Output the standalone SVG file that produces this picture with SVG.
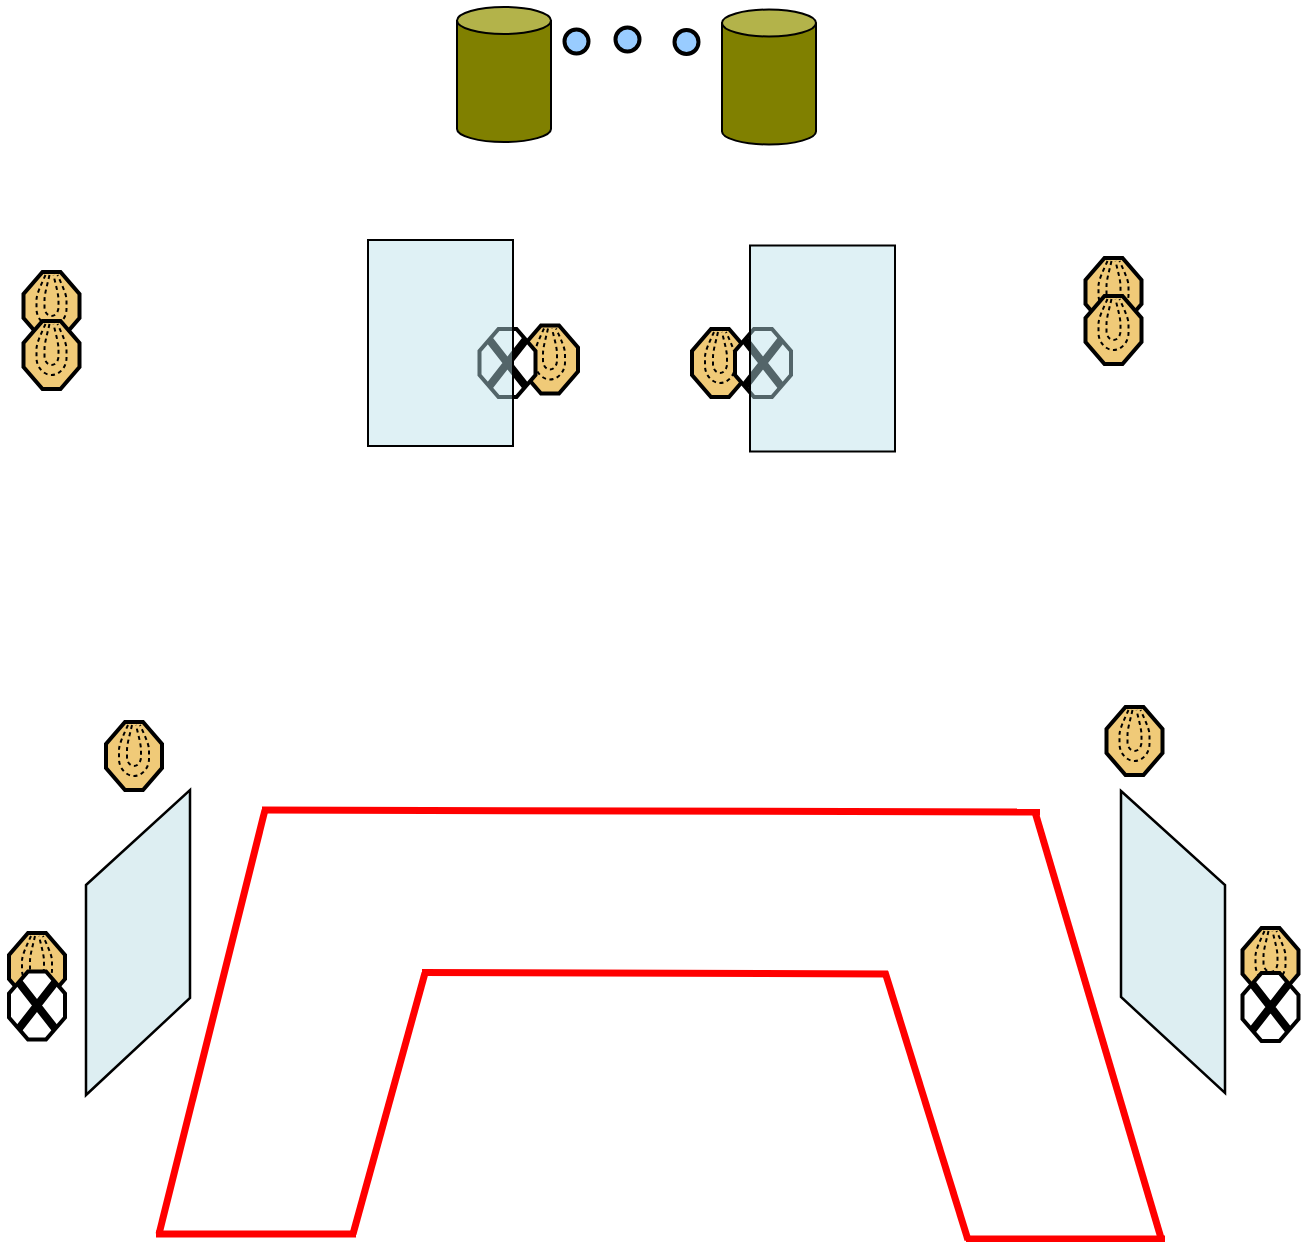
<svg xmlns="http://www.w3.org/2000/svg" xmlns:xlink="http://www.w3.org/1999/xlink" width="1306" height="1242" viewBox="0 0 1306 1242">
<style>
.oct{stroke:#000;stroke-width:4;stroke-linejoin:miter}
.o{fill:#f0ca78}
.w{fill:#fff}
.dot{fill:none;stroke:#000;stroke-width:2;stroke-dasharray:4 3.500}
.x{stroke:#000;stroke-width:8;fill:none}
.panel{fill:#b8e0e8;fill-opacity:.45;stroke:#000;stroke-width:2}
.side{fill:#ddeef2;stroke:#000;stroke-width:2.500}
.cyl{fill:#808000;stroke:#000;stroke-width:2}
.cap{fill:#b3b34a;stroke:#000;stroke-width:2}
.dotc{fill:#99ccff;stroke:#000;stroke-width:4}
.red{stroke:#f00;stroke-width:7;fill:none}
</style>
<defs>
<polygon id="octShape" points="-9,-34 9,-34 28,-12 28,12 9,34 -9,34 -28,12 -28,-12"/>
<g id="pod">
<use xlink:href="#octShape" href="#octShape" class="oct o"/>
<path class="dot" d="M-6,-31C-10,-22 -15,-12 -15,-6V3C-15,12 -8,20 0,20C8,20 15,12 15,3V-6C15,-12 10,-22 6,-31"/>
<path class="dot" d="M-2,-31C-4,-22 -7,-12 -7,-6V1C-7,6 -4,10 0,10C4,10 7,6 7,1V-6C7,-12 4,-22 2,-31"/>
</g>
<g id="xnode">
<use xlink:href="#octShape" href="#octShape" class="oct w"/>
<path class="x" d="M-18,-23L18,23M18,-23L-18,23"/>
</g>
<path id="cylBody" class="cyl" d="M0,13V122C0,129 21,135 47,135C73,135 94,129 94,122V13"/>
<ellipse id="cylCap" class="cap" cx="47" cy="13.500" rx="47" ry="13.500"/>
</defs>
<g id="connectors">
<path class="red" d="M262,810L1040,812"/>
<path class="red" d="M1035,812L1161,1238"/>
<path class="red" d="M966,1239H1165"/>
<path class="red" d="M885,972L968,1240"/>
<path class="red" d="M422,972.500L888,974"/>
<path class="red" d="M425,973L353,1234"/>
<path class="red" d="M156,1234H356"/>
<path class="red" d="M159,1234L265,810"/>
</g>
<g id="cylinder-left"><use xlink:href="#cylBody" href="#cylBody" x="457" y="7"/><use xlink:href="#cylCap" href="#cylCap" x="457" y="7"/></g>
<g id="cylinder-right"><use xlink:href="#cylBody" href="#cylBody" x="722" y="9.500"/><use xlink:href="#cylCap" href="#cylCap" x="722" y="9.500"/></g>
<g id="dot-1"><circle class="dotc" cx="576.500" cy="41.500" r="12"/></g>
<g id="dot-2"><circle class="dotc" cx="627.500" cy="39.500" r="12"/></g>
<g id="dot-3"><circle class="dotc" cx="686.500" cy="42" r="12"/></g>
<g id="pod-tl-a"><use xlink:href="#pod" href="#pod" x="51.500" y="306"/></g>
<g id="pod-tl-b"><use xlink:href="#pod" href="#pod" x="51.500" y="355"/></g>
<g id="pod-tr-a"><use xlink:href="#pod" href="#pod" x="1113.500" y="292"/></g>
<g id="pod-tr-b"><use xlink:href="#pod" href="#pod" x="1113.500" y="330"/></g>
<g id="pod-center-left"><use xlink:href="#pod" href="#pod" x="550" y="359.500"/></g>
<g id="x-center-left"><use xlink:href="#xnode" href="#xnode" x="507.500" y="363"/></g>
<g id="panel-center-left"><rect class="panel" x="368" y="240" width="145" height="206"/></g>
<g id="pod-center-right"><use xlink:href="#pod" href="#pod" x="720" y="363"/></g>
<g id="x-center-right"><use xlink:href="#xnode" href="#xnode" x="763" y="363"/></g>
<g id="panel-center-right"><rect class="panel" x="750" y="245.500" width="145" height="206"/></g>
<g id="pod-bl"><use xlink:href="#pod" href="#pod" x="134" y="756"/></g>
<g id="pod-br"><use xlink:href="#pod" href="#pod" x="1134.500" y="741"/></g>
<g id="pod-bl-low"><use xlink:href="#pod" href="#pod" x="37" y="967"/></g>
<g id="x-bl-low"><use xlink:href="#xnode" href="#xnode" x="37" y="1005.500"/></g>
<g id="pod-br-low"><use xlink:href="#pod" href="#pod" x="1270.500" y="962"/></g>
<g id="x-br-low"><use xlink:href="#xnode" href="#xnode" x="1270.500" y="1007"/></g>
<g id="panel-bl"><polygon class="side" points="86,885 190,790 190,998 86,1095"/></g>
<g id="panel-br"><polygon class="side" points="1121,791 1225,885 1225,1093 1121,997"/></g>
</svg>
